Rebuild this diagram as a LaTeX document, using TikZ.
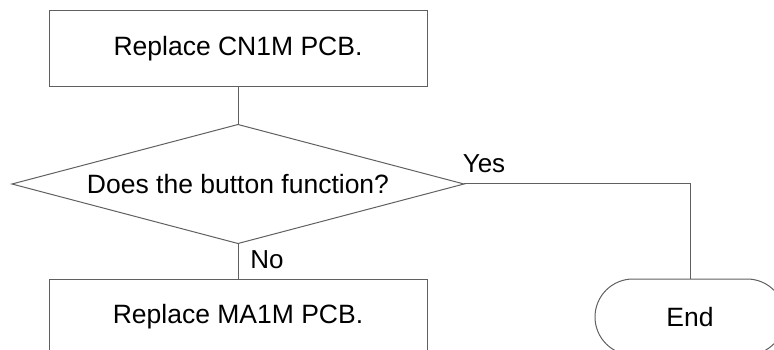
\documentclass[tikz,border=0pt]{standalone}
\usepackage{fontspec}
\setmainfont{Liberation Sans}
\usetikzlibrary{shapes.geometric,shapes.misc}
\definecolor{linec}{HTML}{606060}
\begin{document}
\begin{tikzpicture}[x=1pt,y=-1pt,
  every node/.style={font=\fontsize{26.5}{31}\selectfont, inner sep=0pt, outer sep=0pt},
  procbox/.style={draw=linec, line width=1pt, minimum width=378pt, minimum height=76pt},
  decbox/.style={draw=linec, line width=1pt, diamond, minimum width=452pt, minimum height=119pt, aspect=3.8},
  termbox/.style={draw=linec, line width=1pt, rounded rectangle, minimum width=190pt, minimum height=76pt},
  conn/.style={draw=linec, line width=1pt},
  lbl/.style={font=\fontsize{26}{30}\selectfont}]
\useasboundingbox (0,0) rectangle (774,350);
\node[procbox] (cn) at (238,49) {Replace CN1M PCB.};
\node[decbox] (dq) at (238,184) {Does the button function?};
\node[procbox] (ma) at (238,317) {Replace MA1M PCB.};
\node[termbox] (end) at (690,317) {End};
\draw[conn] (cn.south) -- (dq.north);
\draw[conn] (dq.south) -- (ma.north);
\draw[conn] (dq.east) -| (end.north);
\node[lbl] (yes) at (484,164) {Yes};
\node[lbl] (no) at (267,260) {No};
\end{tikzpicture}
\end{document}
